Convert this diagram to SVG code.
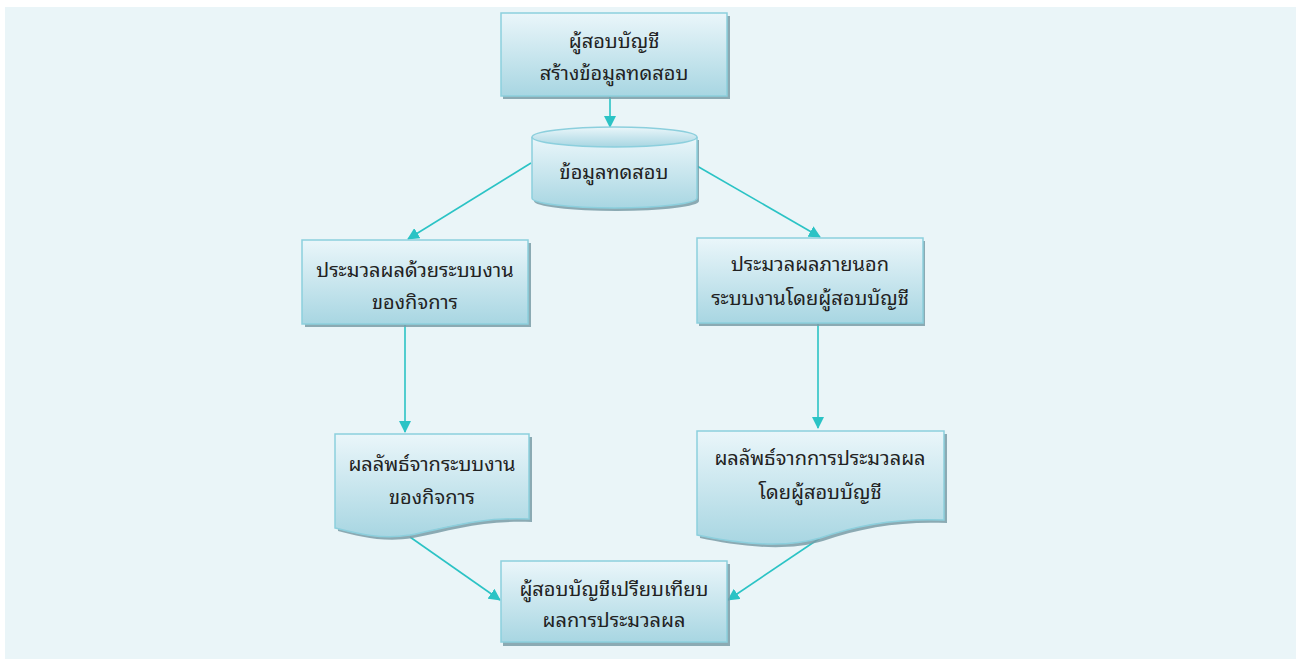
<svg xmlns="http://www.w3.org/2000/svg" width="1298" height="659" viewBox="0 0 1298 659">
<defs>
<linearGradient id="g" x1="0" y1="0" x2="0" y2="1">
<stop offset="0" stop-color="#EAF6FA"/>
<stop offset="1" stop-color="#A8D6E2"/>
</linearGradient>
<marker id="ah" markerWidth="12" markerHeight="12" refX="11" refY="6" orient="auto" markerUnits="userSpaceOnUse">
<path d="M0,0 L12,6 L0,12 Z" fill="#2BC3C5"/>
</marker>
<style>
.shape{fill:url(#g);stroke:#8CCFDD;stroke-width:1.5}
.shadow{fill:#7A9CA7;opacity:0.85}
.t{font-family:"Noto Sans Thai Looped","Loma","Garuda","Kinnari","Noto Serif Thai","Noto Sans Thai","DejaVu Sans",sans-serif;font-size:20px;fill:#222;text-anchor:middle}
.c{stroke:#2BC3C5;stroke-width:1.6;fill:none;marker-end:url(#ah)}
</style>
</defs>
<rect x="0" y="0" width="1298" height="659" fill="#FFFFFF"/>
<rect x="5" y="7" width="1291" height="652" fill="#EAF5F8"/>

<g id="connectors">
<line class="c" x1="610" y1="97" x2="610" y2="127"/>
<line class="c" x1="531" y1="163" x2="408" y2="239"/>
<line class="c" x1="697" y1="166" x2="820" y2="237"/>
<line class="c" x1="405" y1="325" x2="405" y2="432"/>
<line class="c" x1="818" y1="324" x2="818" y2="428"/>
<line class="c" x1="410" y1="537" x2="500" y2="600"/>
<line class="c" x1="820" y1="538" x2="728" y2="600"/>
</g>

<g id="n1">
<rect class="shadow" x="503" y="16" width="227" height="83"/>
<rect class="shape" x="501" y="13" width="226" height="83"/>
<text class="t" x="614" y="48">ผู้สอบบัญชี</text>
<text class="t" x="614" y="80">สร้างข้อมูลทดสอบ</text>
</g>

<g id="n2">
<path class="shadow" d="M534,140 V201 A82.5,10 0 0 0 699,201 V140 Z"/>
<path class="shape" d="M532,137 V198 A82.5,10 0 0 0 697,198 V137"/>
<ellipse class="shape" cx="614.5" cy="137" rx="82.5" ry="10"/>
<text class="t" x="614" y="179">ข้อมูลทดสอบ</text>
</g>

<g id="n3">
<rect class="shadow" x="305" y="243" width="226" height="84"/>
<rect class="shape" x="302" y="240" width="226" height="84"/>
<text class="t" x="415" y="277">ประมวลผลด้วยระบบงาน</text>
<text class="t" x="415" y="309">ของกิจการ</text>
</g>

<g id="n4">
<rect class="shadow" x="699" y="241" width="226" height="85"/>
<rect class="shape" x="697" y="238" width="226" height="85"/>
<text class="t" x="810" y="271">ประมวลผลภายนอก</text>
<text class="t" x="810" y="305">ระบบงานโดยผู้สอบบัญชี</text>
</g>

<g id="n5">
<path class="shadow" d="M338,437 H532 V522 C483,520 453,530 413,538 C383,543 358,536 338,531 Z"/>
<path class="shape" d="M335,434 H529 V519 C480,517 450,527 410,535 C380,540 355,533 335,528 Z"/>
<text class="t" x="432" y="471">ผลลัพธ์จากระบบงาน</text>
<text class="t" x="432" y="504">ของกิจการ</text>
</g>

<g id="n6">
<path class="shadow" d="M700,434 H947 V523 C903,521 863,527 823,541 C783,553 733,545 700,538 Z"/>
<path class="shape" d="M697,431 H944 V520 C900,518 860,524 820,538 C780,550 730,542 697,535 Z"/>
<text class="t" x="820" y="465">ผลลัพธ์จากการประมวลผล</text>
<text class="t" x="820" y="499">โดยผู้สอบบัญชี</text>
</g>

<g id="n7">
<rect class="shadow" x="503" y="564" width="227" height="82"/>
<rect class="shape" x="501" y="561" width="226" height="81"/>
<text class="t" x="614" y="596">ผู้สอบบัญชีเปรียบเทียบ</text>
<text class="t" x="614" y="627">ผลการประมวลผล</text>
</g>
</svg>
